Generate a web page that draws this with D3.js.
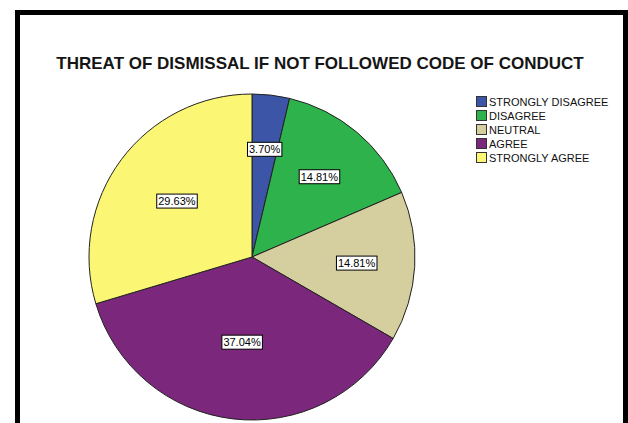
<!DOCTYPE html>
<html><head><meta charset="utf-8">
<script src="https://cdn.jsdelivr.net/npm/d3@7"></script>
<style>html,body{margin:0;padding:0;background:#fff;}svg{display:block;}</style>
</head><body>
<svg id="c" width="628" height="423"></svg>
<script>
const categories = ["STRONGLY DISAGREE","DISAGREE","NEUTRAL","AGREE","STRONGLY AGREE"];
const counts = [1,4,4,10,8];
const percentLabels = ["3.70%","14.81%","14.81%","37.04%","29.63%"];
const colors = ["#3C55A6","#2EB24B","#D5CE9E","#7B287C","#FBF775"];
const title = "THREAT OF DISMISSAL IF NOT FOLLOWED CODE OF CONDUCT";

const svg = d3.select("#c");
svg.append("rect").attr("x",17.5).attr("y",12.5).attr("width",608).attr("height",520)
  .attr("fill","#fff").attr("stroke","#000").attr("stroke-width",5);

const font = "Arial, 'Liberation Sans', sans-serif";
svg.append("text").attr("x",320).attr("y",68.5).attr("text-anchor","middle")
  .attr("font-family",font).attr("font-size",17).attr("font-weight","bold").attr("fill","#151515").text(title);

const cx = 252, cy = 257, r = 163;
const pie = d3.pie().sort(null).value(d=>d)(counts);
const arc = d3.arc().innerRadius(0).outerRadius(r);
const g = svg.append("g").attr("transform",`translate(${cx},${cy})`);
g.selectAll("path.slice").data(pie).enter().append("path")
  .attr("d",arc).attr("fill",(d,i)=>colors[i]).attr("stroke","#222").attr("stroke-width",1);

pie.forEach((d,i)=>{
  const a = d.endAngle - d.startAngle;
  const dist = 4*r*Math.sin(a/2)/(3*a);
  const m = (d.startAngle+d.endAngle)/2;
  const x = dist*Math.sin(m), y = -dist*Math.cos(m);
  const lg = g.append("g").attr("transform",`translate(${x},${y})`);
  const tx = lg.append("text").attr("text-anchor","middle").attr("dy","0.35em")
    .attr("font-family",font).attr("font-size",11).attr("fill","#000").text(percentLabels[i]);
  const bb = tx.node().getBBox();
  lg.insert("rect","text").attr("x",bb.x-1.5).attr("y",-7).attr("width",bb.width+3).attr("height",14)
    .attr("fill","#fff").attr("stroke","#000").attr("stroke-width",1);
});

const lgY = d3.scalePoint().domain(categories).range([102,158]);
const leg = svg.append("g");
categories.forEach((c,i)=>{
  const y = lgY(c);
  leg.append("rect").attr("x",476.5).attr("y",y-5.5).attr("width",10).attr("height",10)
    .attr("fill",colors[i]).attr("stroke","#333").attr("stroke-width",1);
  leg.append("text").attr("x",489).attr("y",y).attr("dy","0.35em")
    .attr("font-family",font).attr("font-size",11).attr("fill","#111").text(c);
});
</script>
</body></html>
